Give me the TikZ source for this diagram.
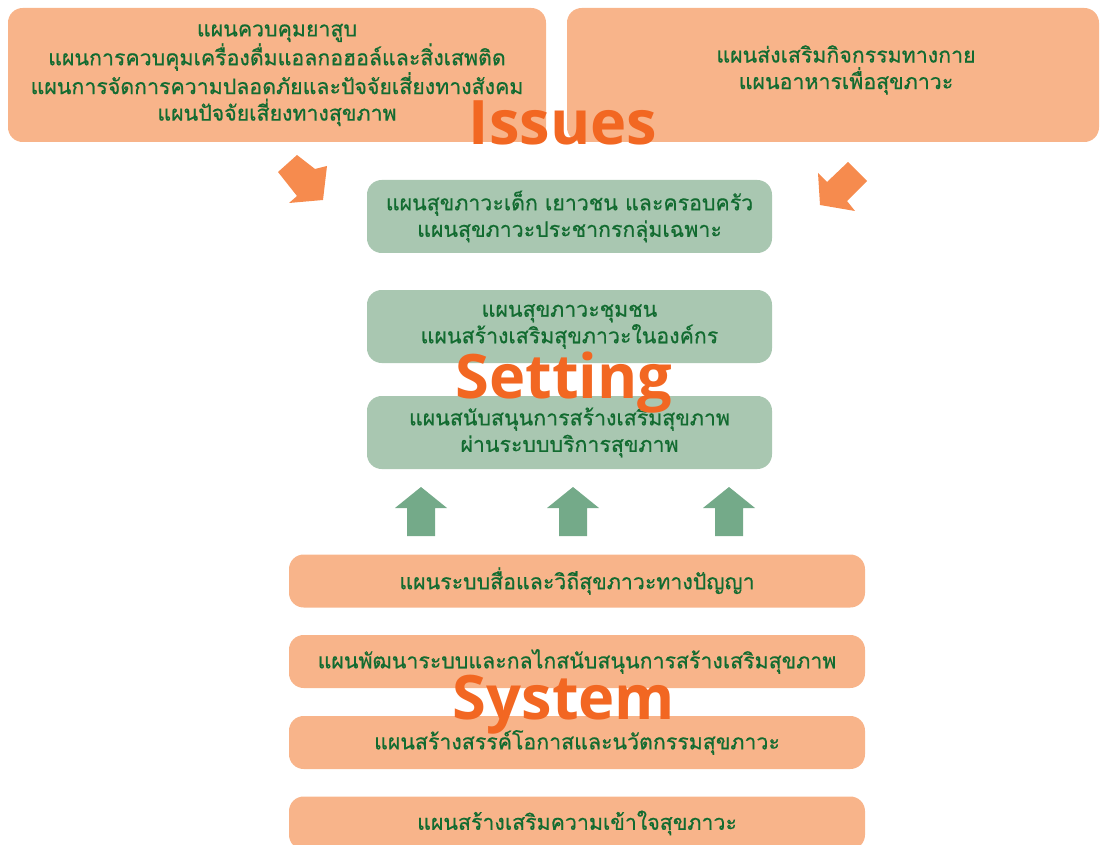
\documentclass[tikz,border=0pt]{standalone}
\usepackage{fontspec}
\newfontfamily\thaifont[Script=Thai,FakeBold=0.6]{Loma}
\newfontfamily\titlefont{Open Sans}
\definecolor{planpeach}{HTML}{F8B48A}
\definecolor{planmint}{HTML}{A9C7B1}
\definecolor{plantext}{HTML}{126B30}
\definecolor{titleorange}{HTML}{F26722}
\definecolor{arroworange}{HTML}{F68B4E}
\definecolor{arrowgreen}{HTML}{74AA89}

\begin{document}
\begin{tikzpicture}[x=0.75pt, y=-0.75pt,
    plan/.style={rounded corners=11pt, inner sep=0pt, align=center, text=plantext,
        font=\thaifont\fontsize{16}{19.9}\selectfont},
    issuebox/.style={plan, fill=planpeach, minimum width=403.5pt, minimum height=100.5pt},
    settingbox/.style={plan, fill=planmint, minimum width=303.75pt, minimum height=54.75pt},
    systembox/.style={plan, fill=planpeach, minimum width=432pt, minimum height=39.75pt},
    heading/.style={anchor=base, text=titleorange, font=\titlefont\bfseries\fontsize{46}{46}\selectfont}]
    \useasboundingbox (0,0) rectangle (1100,845);

    % Issues
    \node[issuebox] (tobacco) at (277,75) {แผนควบคุมยาสูบ\\แผนการควบคุมเครื่องดื่มแอลกอฮอล์และสิ่งเสพติด\\แผนการจัดการความปลอดภัยและปัจจัยเสี่ยงทางสังคม\\แผนปัจจัยเสี่ยงทางสุขภาพ};
    \node[issuebox, minimum width=399pt] (activity) at (833,75) {};
    \node[plan] (activitytext) at (846,70) {แผนส่งเสริมกิจกรรมทางกาย\\แผนอาหารเพื่อสุขภาวะ};

    % Setting
    \node[settingbox] (youth) at (569.5,216.5) {แผนสุขภาวะเด็ก เยาวชน และครอบครัว\\แผนสุขภาวะประชากรกลุ่มเฉพาะ};
    \node[settingbox] (community) at (569.5,326.5) {แผนสุขภาวะชุมชน\\แผนสร้างเสริมสุขภาวะในองค์กร};
    \node[settingbox] (service) at (569.5,432.5) {แผนสนับสนุนการสร้างเสริมสุขภาพ\\ผ่านระบบบริการสุขภาพ};

    % System
    \node[systembox] (media) at (577,581) {แผนระบบสื่อและวิถีสุขภาวะทางปัญญา};
    \node[systembox] (mechanism) at (577,661.5) {แผนพัฒนาระบบและกลไกสนับสนุนการสร้างเสริมสุขภาพ};
    \node[systembox] (innovation) at (577,742.5) {แผนสร้างสรรค์โอกาสและนวัตกรรมสุขภาวะ};
    \node[systembox] (knowledge) at (577,823) {แผนสร้างเสริมความเข้าใจสุขภาวะ};

    % arrows
    \fill[arroworange] (297,155) -- (315,169) -- (327,166) -- (323,200) -- (289,203) -- (297,196) -- (278,172) -- cycle;
    \fill[arroworange] (848,162) -- (867,181) -- (847,201) -- (855,211) -- (820,205) -- (818,173) -- (827,182) -- cycle;
    \foreach \x in {421,573,729}
        \fill[arrowgreen] (\x-14,536) -- (\x-14,508) -- (\x-26,508) -- (\x,487) -- (\x+26,508) -- (\x+14,508) -- (\x+14,536) -- cycle;

    \node[heading] (issues) at (563,145) {Issues};
    \node[heading] (setting) at (564,398) {Setting};
    \node[heading] (system) at (564,719) {System};
\end{tikzpicture}
\end{document}
